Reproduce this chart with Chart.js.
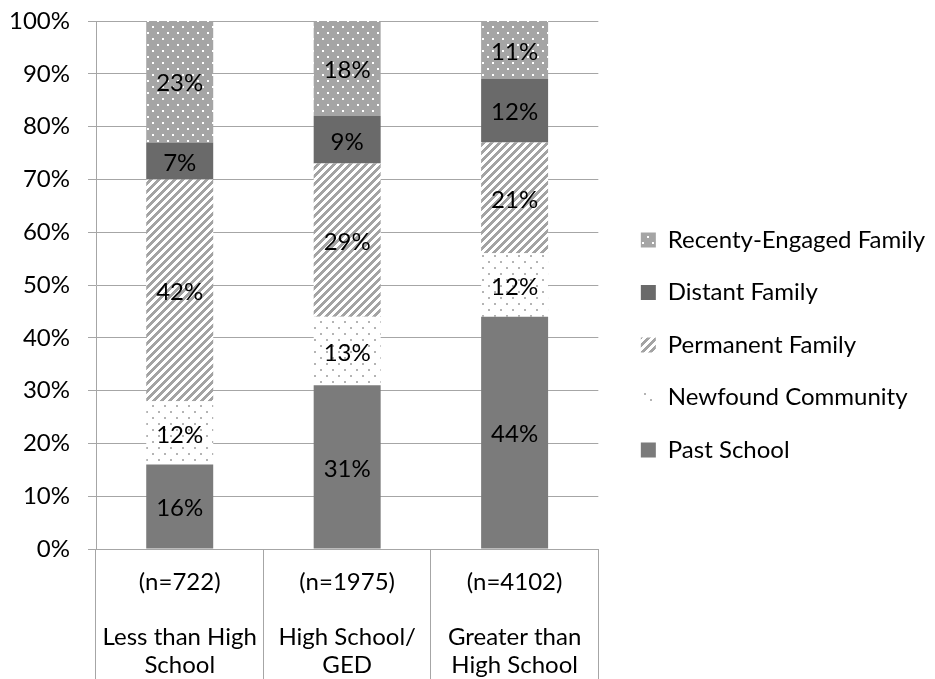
<!DOCTYPE html>
<html>
<head>
<meta charset="utf-8">
<script src="https://cdn.jsdelivr.net/npm/chart.js@4/dist/chart.umd.min.js"></script>
<style>
  html, body { margin: 0; padding: 0; background: #ffffff; overflow: hidden; }
  #wrap { width: 935px; height: 679px; }
</style>
</head>
<body>
<div id="wrap"><canvas id="chart" width="935" height="679"></canvas></div>
<script>
// Education groups (sample size on the first line, group name below)
const sampleSizes = ['(n=722)', '(n=1975)', '(n=4102)'];
const groupNames = [['Less than High', 'School'], ['High School/', 'GED'], ['Greater than', 'High School']];

// Share of respondents (%) by relationship source, stacked bottom to top
const pastSchool        = [16, 31, 44];
const newfoundCommunity = [12, 13, 12];
const permanentFamily   = [42, 29, 21];
const distantFamily     = [7, 9, 12];
const recentlyEngaged   = [23, 18, 11];

const yTicks = [0, 10, 20, 30, 40, 50, 60, 70, 80, 90, 100];

const FONT = 'Lato';
const FONT_SIZE = 24;

// Fill patterns for the stacked segments
function makePattern(w, h, paint) {
  const c = document.createElement('canvas');
  c.width = w; c.height = h;
  const g = c.getContext('2d');
  paint(g, w, h);
  return g.createPattern(c, 'repeat');
}

const dotsOnGray = makePattern(10, 12, (g, w, h) => {
  g.fillStyle = '#a5a5a5'; g.fillRect(0, 0, w, h);
  g.fillStyle = '#ffffff';
  g.fillRect(2, 2, 2, 2);
  g.fillRect(7, 8, 2, 2);
});

const sparseDots = makePattern(12, 12, (g, w, h) => {
  g.fillStyle = '#ffffff'; g.fillRect(0, 0, w, h);
  g.fillStyle = '#b4b4b4';
  g.fillRect(2, 3, 2, 2);
  g.fillRect(8, 9, 2, 2);
});

const diagonalStripes = makePattern(8, 8, (g, w, h) => {
  g.fillStyle = '#ffffff'; g.fillRect(0, 0, w, h);
  g.fillStyle = '#a3a3a3';
  for (let y = 0; y < h; y++) {
    for (let x = 0; x < w; x++) {
      if ((x + y) % 8 < 4) g.fillRect(x, y, 1, 1);
    }
  }
});

const labels = sampleSizes.map((n, i) => [n, '', ...groupNames[i]]);

// Percentage written in the middle of every segment
const segmentValues = {
  id: 'segmentValues',
  afterDatasetsDraw(chart) {
    const ctx = chart.ctx;
    ctx.save();
    ctx.font = FONT_SIZE + 'px ' + FONT;
    ctx.fillStyle = '#000000';
    ctx.textAlign = 'center';
    ctx.textBaseline = 'middle';
    chart.data.datasets.forEach((ds, i) => {
      const meta = chart.getDatasetMeta(i);
      meta.data.forEach((bar, j) => {
        const p = bar.getProps(['x', 'y', 'base'], true);
        ctx.fillText(ds.data[j] + '%', p.x, (p.y + p.base) / 2 + 2);
      });
    });
    ctx.restore();
  }
};

const seg = (label, data, fill) => ({
  label, data,
  backgroundColor: fill,
  borderColor: 'rgba(0,0,0,0)',
  borderWidth: 0,
  categoryPercentage: 0.8,
  barPercentage: 0.5
});

new Chart(document.getElementById('chart'), {
  type: 'bar',
  data: {
    labels,
    datasets: [
      seg('Past School', pastSchool, '#7b7b7b'),
      seg('Newfound Community', newfoundCommunity, sparseDots),
      seg('Permanent Family', permanentFamily, diagonalStripes),
      seg('Distant Family', distantFamily, '#6a6a6a'),
      seg('Recenty-Engaged Family', recentlyEngaged, dotsOnGray)
    ]
  },
  options: {
    responsive: false,
    animation: false,
    layout: { padding: { top: 11, left: 0, right: 0, bottom: 0 } },
    font: { family: FONT, size: FONT_SIZE },
    plugins: {
      tooltip: { enabled: false },
      legend: {
        position: 'right',
        reverse: true,
        maxWidth: 400,
        labels: {
          boxWidth: 15,
          boxHeight: 15,
          padding: 28.5,
          color: '#000000',
          font: { family: FONT, size: FONT_SIZE }
        }
      }
    },
    scales: {
      x: {
        stacked: true,
        afterFit: s => { s.height = 130; },
        grid: {
          display: true,
          offset: true,
          drawOnChartArea: false,
          drawTicks: true,
          tickLength: 150,
          color: '#a6a6a6',
          lineWidth: 1
        },
        border: { display: true, color: '#a6a6a6' },
        ticks: {
          color: '#000000',
          padding: -130,
          maxRotation: 0,
          autoSkip: false,
          font: { family: FONT, size: FONT_SIZE, lineHeight: 27.5 / 24 }
        }
      },
      y: {
        stacked: true,
        min: 0,
        max: 100,
        afterBuildTicks: s => { s.ticks = yTicks.map(v => ({ value: v })); },
        afterFit: s => { s.width = 96; s.paddingTop = 21; s.paddingBottom = 0; },
        grid: { color: '#a6a6a6', lineWidth: 1, tickLength: 8 },
        border: { display: true, color: '#a6a6a6' },
        ticks: {
          color: '#000000',
          padding: 18,
          font: { family: FONT, size: FONT_SIZE },
          callback: v => v + '%'
        }
      },
      gap: {
        type: 'linear',
        position: 'right',
        display: true,
        afterFit: s => { s.width = 14; },
        grid: { display: false },
        border: { display: false },
        ticks: { display: false }
      }
    }
  },
  plugins: [segmentValues]
});
</script>
</body>
</html>
